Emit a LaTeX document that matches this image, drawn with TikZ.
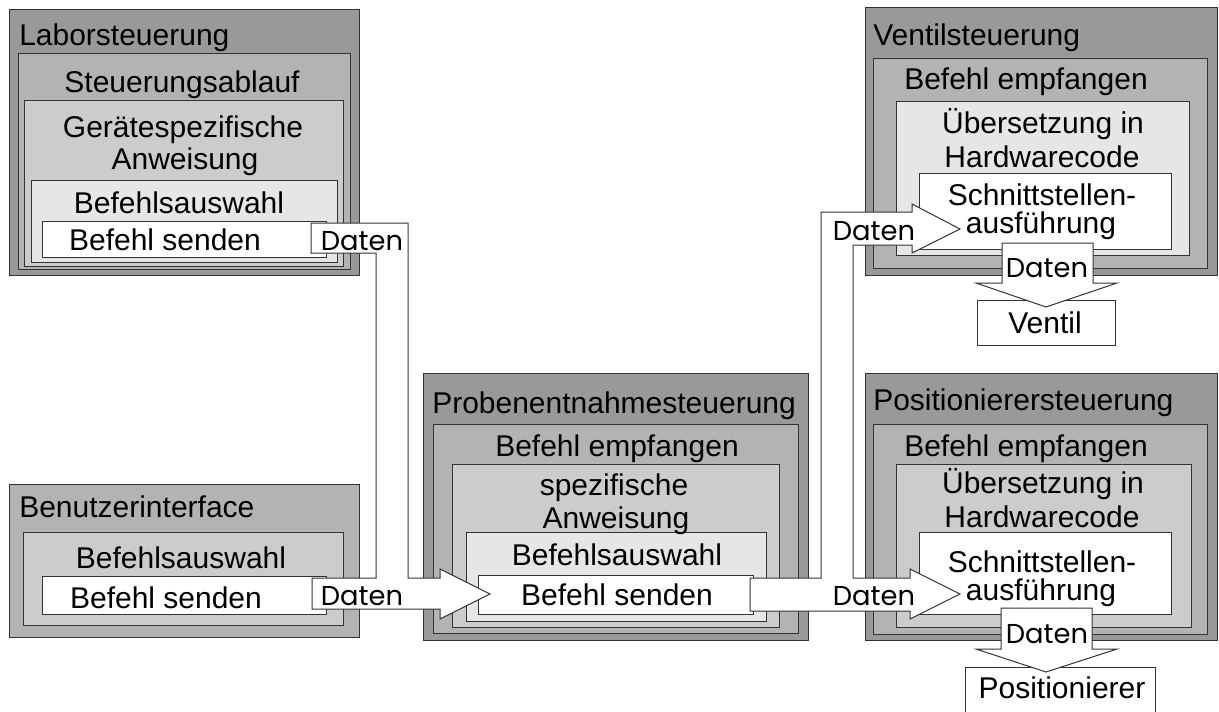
\documentclass[tikz,border=0pt]{standalone}
\usepackage{fontspec}
\setmainfont{Liberation Sans}
\newfontfamily\datenfont{Poppins}
\usetikzlibrary{fit}
\definecolor{gA}{HTML}{999999}
\definecolor{gB}{HTML}{B3B3B3}
\definecolor{gC}{HTML}{CCCCCC}
\definecolor{gD}{HTML}{E6E6E6}
\definecolor{lineC}{HTML}{333333}
\newcommand{\mainsz}{\fontsize{22.5}{27}\selectfont}
\newcommand{\datsz}{\datenfont\fontsize{20.5}{24}\selectfont}
\begin{document}
\begin{tikzpicture}[x=0.75pt,y=-0.75pt,
  box/.style={draw=lineC, line width=0.75pt, inner sep=0pt, outer sep=0pt},
  txt/.style={anchor=base, inner sep=0pt, font=\mainsz},
  ttl/.style={anchor=base west, inner sep=0pt, font=\mainsz},
  dat/.style={anchor=base, inner sep=0pt, font=\datsz},
  barrow/.style={draw=lineC, fill=white, line width=0.75pt, line join=miter}]
\useasboundingbox (0,0) rectangle (1219,711);

% Laborsteuerung
\node[box, fill=gA, fit={(9,9)(359,275)}] (L0) {};
\node[box, fill=gB, fit={(18,53)(350,269)}] (L1) {};
\node[box, fill=gC, fit={(24,100)(343,266)}] (L2) {};
\node[box, fill=gD, fit={(31,180)(337,262)}] (L3) {};
\node[box, fill=white, fit={(42,221)(326,257)}] (L4) {};
\node[ttl] (L0t) at (19,45) {Laborsteuerung};
\node[txt] (L1t) at (182,92) {Steuerungsablauf};
\node[txt] (L2t) at (183,137) {Gerätespezifische};
\node[txt] (L2u) at (185,169) {Anweisung};
\node[txt] (L3t) at (179,213) {Befehlsauswahl};
\node[txt] (L4t) at (165,250) {Befehl senden};

% Benutzerinterface
\node[box, fill=gB, fit={(9,484)(359,637)}] (B0) {};
\node[box, fill=gC, fit={(23,532)(343,625)}] (B1) {};
\node[box, fill=white, fit={(42,576)(326,614)}] (B2) {};
\node[ttl] (B0t) at (19,517) {Benutzerinterface};
\node[txt] (B1t) at (181,568) {Befehlsauswahl};
\node[txt] (B2t) at (166,608) {Befehl senden};

% Probenentnahmesteuerung
\node[box, fill=gA, fit={(423,373)(808,640)}] (P0) {};
\node[box, fill=gB, fit={(433,424)(798,633)}] (P1) {};
\node[box, fill=gC, fit={(452,464)(779,627)}] (P2) {};
\node[box, fill=gD, fit={(466,532)(766,621)}] (P3) {};
\node[box, fill=white, fit={(478,575)(753,614)}] (P4) {};
\node[ttl] (P0t) at (432,413) {Probenentnahmesteuerung};
\node[txt] (P1t) at (617,456) {Befehl empfangen};
\node[txt] (P2t) at (614,495) {spezifische};
\node[txt] (P2u) at (616,528) {Anweisung};
\node[txt] (P3t) at (617,565) {Befehlsauswahl};
\node[txt] (P4t) at (617,605) {Befehl senden};

% Ventilsteuerung
\node[box, fill=gA, fit={(865,7)(1217,275)}] (V0) {};
\node[box, fill=gB, fit={(873,58)(1207,268)}] (V1) {};
\node[box, fill=gD, fit={(896,101)(1189,255)}] (V2) {};
\node[box, fill=white, fit={(919,173)(1171,249)}] (V3) {};
\node[ttl] (V0t) at (873,45) {Ventilsteuerung};
\node[txt] (V1t) at (1026,89) {Befehl empfangen};
\node[txt] (V2t) at (1043,133) {Übersetzung in};
\node[txt] (V2u) at (1042,167) {Hardwarecode};
\node[txt] (V3t) at (1042,205) {Schnittstellen-};
\node[txt] (V3u) at (1041,233) {ausführung};

% Positionierersteuerung
\node[box, fill=gA, fit={(865,373)(1217,640)}] (Q0) {};
\node[box, fill=gB, fit={(873,424)(1207,634)}] (Q1) {};
\node[box, fill=gC, fit={(896,464)(1191,627)}] (Q2) {};
\node[box, fill=white, fit={(919,532)(1171,614)}] (Q3) {};
\node[ttl] (Q0t) at (873,410) {Positionierersteuerung};
\node[txt] (Q1t) at (1026,456) {Befehl empfangen};
\node[txt] (Q2t) at (1043,493) {Übersetzung in};
\node[txt] (Q2u) at (1042,527) {Hardwarecode};
\node[txt] (Q3t) at (1042,572) {Schnittstellen-};
\node[txt] (Q3u) at (1041,600) {ausführung};

% Devices
\node[box, fill=white, fit={(977,300)(1115,345)}] (ventil) {};
\node[txt] (ventilt) at (1045,333) {Ventil};
\node[box, fill=white, fit={(965,667)(1155,725)}] (pos) {};
\node[txt] (post) at (1062,698) {Positionierer};

% Block arrows
\draw[barrow] (311,223) -- (408,223) -- (408,578) -- (440,578) -- (440,569) -- (490,594)
  -- (440,619) -- (440,609) -- (312,609) -- (312,578) -- (376,578) -- (376,253) -- (311,253) -- cycle;
\node[dat] (d1) at (362,250) {Daten};
\node[dat] (d2) at (362,605) {Daten};

\draw[barrow] (750,578) -- (821,578) -- (821,212) -- (912,212) -- (912,204) -- (960,229)
  -- (912,253) -- (912,245) -- (853,245) -- (853,578) -- (910,578) -- (910,569) -- (960,594)
  -- (910,619) -- (910,611) -- (750,611) -- cycle;
\node[dat] (d3) at (874,240) {Daten};
\node[dat] (d4) at (874,605) {Daten};

\draw[barrow] (1002,243) -- (1093,243) -- (1093,283) -- (1117,283) -- (1046,307) -- (976,283) -- (1002,283) -- cycle;
\node[dat] (d5) at (1047,277) {Daten};
\draw[barrow] (1001,608) -- (1092,608) -- (1092,649) -- (1117,649) -- (1046,672) -- (976,649) -- (1001,649) -- cycle;
\node[dat] (d6) at (1047,643) {Daten};
\end{tikzpicture}
\end{document}
